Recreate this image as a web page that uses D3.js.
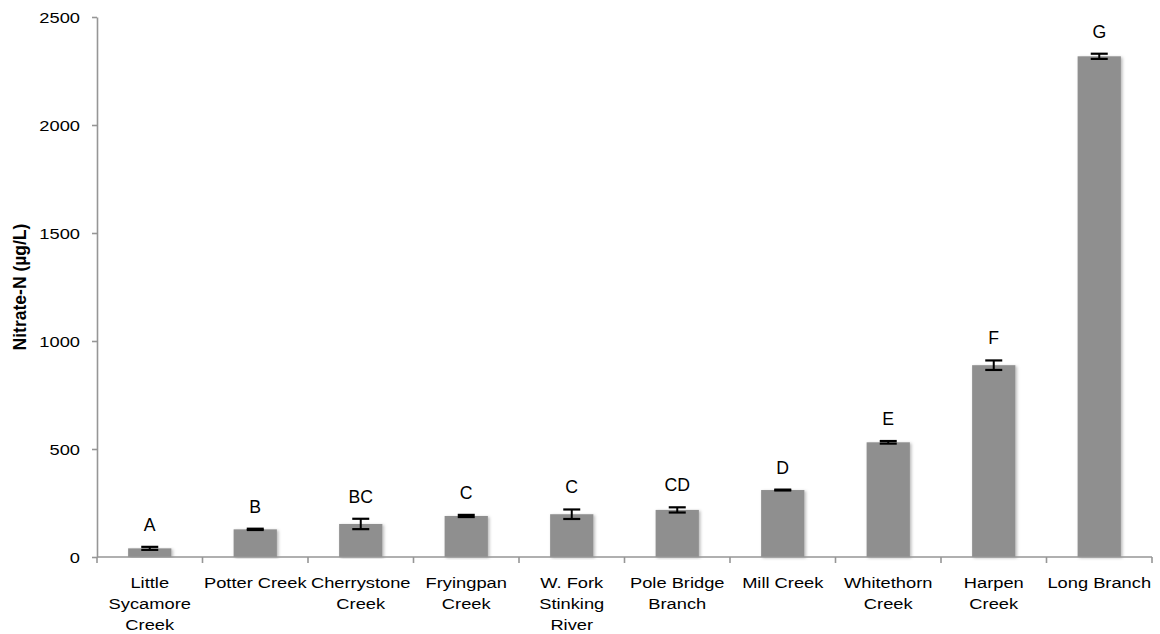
<!DOCTYPE html>
<html>
<head>
<meta charset="utf-8">
<script src="https://cdn.jsdelivr.net/npm/d3@7"></script>
<style>
  html, body { margin: 0; padding: 0; background: #fff; }
  svg { display: block; font-family: "Liberation Sans", Arial, sans-serif; }
</style>
</head>
<body>
<svg id="chart" width="1160" height="634"></svg>
<script>
// Stream sites, ordered by mean nitrate concentration
const categories = [
  "Little Sycamore Creek", "Potter Creek", "Cherrystone Creek", "Fryingpan Creek",
  "W. Fork Stinking River", "Pole Bridge Branch", "Mill Creek", "Whitethorn Creek",
  "Harpen Creek", "Long Branch"
];
// Axis label text for each site, with line breaks
const categoryLabels = [
  "Little\nSycamore\nCreek", "Potter Creek", "Cherrystone\nCreek", "Fryingpan\nCreek",
  "W. Fork\nStinking\nRiver", "Pole Bridge\nBranch", "Mill Creek", "Whitethorn\nCreek",
  "Harpen\nCreek", "Long Branch"
];
// Mean nitrate-N (µg/L) and standard error
const means  = [40, 128, 153, 190, 198, 218, 310, 531, 888, 2318];
const errors = [7, 3, 24, 5, 22, 12, 2, 6, 22, 12];
// Significance groupings
const groups = ["A", "B", "BC", "C", "C", "CD", "D", "E", "F", "G"];
const yTicks = [0, 500, 1000, 1500, 2000, 2500];

const svg = d3.select("#chart");
const plotLeft = 97, plotRight = 1152, plotTop = 17, plotBottom = 557;
const stretch = 1.18;

const x = d3.scaleBand().domain(categories).range([plotLeft, plotRight])
  .paddingInner(0.59).paddingOuter(0.295);
const y = d3.scaleLinear().domain([0, 2500]).range([plotBottom, plotTop]);
const step = (plotRight - plotLeft) / categories.length;

// soft shadow under the bars
const defs = svg.append("defs");
const f = defs.append("filter").attr("id", "barShadow")
  .attr("x", "-20%").attr("y", "-5%").attr("width", "140%").attr("height", "110%");
f.append("feDropShadow").attr("dx", 1.5).attr("dy", 1).attr("stdDeviation", 1.5)
  .attr("flood-color", "#000").attr("flood-opacity", 0.28);

// y axis
const yAxis = svg.append("g").attr("transform", `translate(${plotLeft},0)`)
  .call(d3.axisLeft(y).tickValues(yTicks).tickSize(5).tickSizeOuter(0).tickFormat(d3.format("d")));
yAxis.select(".domain").attr("stroke", "#969696").attr("stroke-width", 1.6);
yAxis.selectAll(".tick line").attr("stroke", "#969696").attr("stroke-width", 1.6);
yAxis.selectAll(".tick text")
  .attr("x", -17 / stretch).attr("dy", "0.36em")
  .attr("transform", `scale(${stretch},1)`)
  .attr("fill", "#000").style("font-size", "15.5px")
  .style("font-family", '"Liberation Sans", Arial, sans-serif');

// y axis title
svg.append("text")
  .attr("transform", `translate(26,${(plotTop + plotBottom) / 2}) rotate(-90)`)
  .attr("text-anchor", "middle")
  .style("font-size", "17.5px").style("font-weight", "bold")
  .text("Nitrate-N (µg/L)");

// bars
svg.append("g").selectAll("rect").data(categories).join("rect")
  .attr("x", d => x(d))
  .attr("y", (d, i) => y(means[i]))
  .attr("width", x.bandwidth())
  .attr("height", (d, i) => y(0) - y(means[i]))
  .attr("fill", "#8f8f8f")
  .attr("filter", "url(#barShadow)");

// x axis line and category ticks
const xAxis = svg.append("g");
xAxis.append("line").attr("x1", plotLeft).attr("x2", plotRight)
  .attr("y1", plotBottom).attr("y2", plotBottom)
  .attr("stroke", "#969696").attr("stroke-width", 1.6);
const boundaries = d3.range(categories.length + 1).map(i => plotLeft + i * step);
xAxis.selectAll("line.tick").data(boundaries).join("line").attr("class", "tick")
  .attr("x1", d => d).attr("x2", d => d)
  .attr("y1", plotBottom).attr("y2", plotBottom + 6)
  .attr("stroke", "#969696").attr("stroke-width", 1.6);

// category labels
const cx = d => x(d) + x.bandwidth() / 2;
const labels = svg.append("g").selectAll("text").data(categories).join("text")
  .attr("transform", d => `translate(${cx(d)},588) scale(${stretch},1)`)
  .attr("text-anchor", "middle")
  .style("font-size", "15.5px");
labels.each(function (d, i) {
  const t = d3.select(this);
  categoryLabels[i].split("\n").forEach((line, k) => {
    t.append("tspan").attr("x", 0).attr("y", k * 21).text(line);
  });
});

// error bars
const eb = svg.append("g").attr("stroke", "#000").attr("fill", "none");
categories.forEach((c, i) => {
  const xc = cx(c), hi = y(means[i] + errors[i]), lo = y(means[i] - errors[i]);
  eb.append("line").attr("x1", xc).attr("x2", xc).attr("y1", hi).attr("y2", lo).attr("stroke-width", 2);
  eb.append("line").attr("x1", xc - 8.5).attr("x2", xc + 8.5).attr("y1", hi).attr("y2", hi).attr("stroke-width", 2.2);
  eb.append("line").attr("x1", xc - 8.5).attr("x2", xc + 8.5).attr("y1", lo).attr("y2", lo).attr("stroke-width", 2.2);
});

// significance letters
svg.append("g").selectAll("text").data(categories).join("text")
  .attr("transform", (d, i) => `translate(${cx(d)},${y(means[i] + errors[i]) - 16}) scale(0.93,1)`)
  .attr("text-anchor", "middle")
  .style("font-size", "19px")
  .text((d, i) => groups[i]);
</script>
</body>
</html>
